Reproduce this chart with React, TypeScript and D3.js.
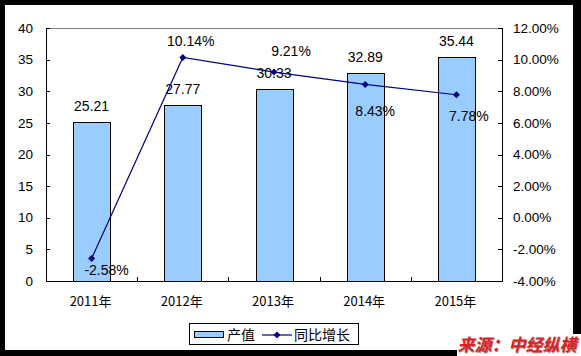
import React from "react";
import * as d3 from "d3";

const years = ["2011年", "2012年", "2013年", "2014年", "2015年"];
const output = [25.21, 27.77, 30.33, 32.89, 35.44];
const growth = [-2.58, 10.14, 9.21, 8.43, 7.78];
const leftTicks = [0, 5, 10, 15, 20, 25, 30, 35, 40];
const rightTicks = [-4, -2, 0, 2, 4, 6, 8, 10, 12];
const legendLabels = ["产值", "同比增长"];
const sourceText = "来源：中经纵横";

// label nudges (layout only)
const growthLabelNudge: [number, number][] = [
  [15, 16.5],
  [8, -11],
  [17, -16],
  [10, 32],
  [12.5, 26],
];

const W = 581;
const H = 356;
const PL = 46;
const PR = 502;
const PT = 28;
const PB = 281;
const NUM_FONT = "'Liberation Sans', Arial, sans-serif";
const CJK_FONT = "'Noto Sans CJK SC', sans-serif";

export default function App() {
  const x = d3.scaleBand<string>().domain(years).range([PL, PR]).padding(0);
  const yL = d3.scaleLinear().domain([0, 40]).range([PB, PT]);
  const yR = d3.scaleLinear().domain([-4, 12]).range([PB, PT]);
  const bw = x.bandwidth() * 0.405;
  const cx = (d: string) => (x(d) as number) + x.bandwidth() / 2;

  const line = d3
    .line<number>()
    .x((_, i) => cx(years[i]))
    .y((v) => yR(v));

  const diamond = (px: number, py: number, r = 3.5) =>
    `M${px},${py - r}L${px + r},${py}L${px},${py + r}L${px - r},${py}Z`;

  const boundaries = years.map((_, i) => PL + x.bandwidth() * i).concat([PR]);

  return (
    <svg
      width={W}
      height={H}
      style={{ position: "absolute", left: 0, top: 0, display: "block" }}
    >
      <rect x={0} y={0} width={W} height={H} fill="#000" />
      <rect x={5} y={5} width={568} height={345} fill="#fff" />

      {/* plot top gray border */}
      <line x1={PL} x2={PR} y1={PT + 0.5} y2={PT + 0.5} stroke="#808080" strokeWidth={1} />

      {/* bars */}
      {years.map((d, i) => (
        <rect
          key={d}
          x={Math.round(cx(d) - bw / 2) + 0.5}
          y={Math.round(yL(output[i])) + 0.5}
          width={Math.round(bw)}
          height={Math.round(yL(0)) - Math.round(yL(output[i]))}
          fill="#99CCFF"
          stroke="#000"
          strokeWidth={1}
        />
      ))}

      {/* axes */}
      <line x1={PL + 0.5} x2={PL + 0.5} y1={PT} y2={PB + 0.5} stroke="#000" />
      <line x1={PR + 0.5} x2={PR + 0.5} y1={PT} y2={PB + 0.5} stroke="#000" />
      <line x1={PL} x2={PR + 1} y1={PB + 0.5} y2={PB + 0.5} stroke="#000" />

      {leftTicks.map((t) => (
        <g key={"l" + t}>
          <line x1={PL} x2={PL + 4} y1={Math.round(yL(t)) + 0.5} y2={Math.round(yL(t)) + 0.5} stroke="#000" />
          <text
            x={33}
            y={yL(t)}
            dy="0.35em"
            textAnchor="end"
            fontFamily={NUM_FONT}
            fontSize={13.5}
            fill="#000"
          >
            {t}
          </text>
        </g>
      ))}

      {rightTicks.map((t) => (
        <g key={"r" + t}>
          <line x1={PR - 4} x2={PR} y1={Math.round(yR(t)) + 0.5} y2={Math.round(yR(t)) + 0.5} stroke="#000" />
          <text
            x={513}
            y={yR(t)}
            dy="0.35em"
            textAnchor="start"
            fontFamily={NUM_FONT}
            fontSize={13.5}
            fill="#000"
          >
            {t.toFixed(2) + "%"}
          </text>
        </g>
      ))}

      {boundaries.map((b, i) => (
        <line key={"xb" + i} x1={Math.round(b) + 0.5} x2={Math.round(b) + 0.5} y1={PB - 4} y2={PB} stroke="#000" />
      ))}

      {years.map((d) => (
        <text
          key={"xl" + d}
          x={cx(d) - 1}
          y={306}
          textAnchor="middle"
          fontFamily={CJK_FONT}
          fontSize={13}
          fill="#000"
        >
          {d}
        </text>
      ))}

      {/* bar labels */}
      {years.map((d, i) => (
        <text
          key={"bl" + d}
          x={cx(d)}
          y={yL(output[i]) - 11}
          textAnchor="middle"
          fontFamily={NUM_FONT}
          fontSize={14}
          fill="#000"
        >
          {output[i].toFixed(2)}
        </text>
      ))}

      {/* growth line */}
      <path d={line(growth) || ""} fill="none" stroke="#000080" strokeWidth={1.2} />
      {growth.map((v, i) => (
        <path key={"m" + i} d={diamond(cx(years[i]), yR(v))} fill="#000080" />
      ))}
      {growth.map((v, i) => (
        <text
          key={"gl" + i}
          x={cx(years[i]) + growthLabelNudge[i][0]}
          y={yR(v) + growthLabelNudge[i][1]}
          textAnchor="middle"
          fontFamily={NUM_FONT}
          fontSize={14}
          fill="#000"
        >
          {v.toFixed(2) + "%"}
        </text>
      ))}

      {/* legend */}
      <rect x={189.5} y={323.5} width={169} height={21} fill="#fff" stroke="#000" />
      <rect x={194.5} y={331.5} width={29} height={6} fill="#99CCFF" stroke="#000" />
      <text x={227} y={340} fontFamily={CJK_FONT} fontSize={14} fill="#000">
        {legendLabels[0]}
      </text>
      <line x1={262} x2={292} y1={335} y2={335} stroke="#000080" strokeWidth={1.2} />
      <path d={diamond(277, 335)} fill="#000080" />
      <text x={294} y={340} fontFamily={CJK_FONT} fontSize={14} fill="#000">
        {legendLabels[1]}
      </text>

      {/* source */}
      <rect x={457} y={334} width={124} height={22} fill="#fff" />
      <text
        x={457.5}
        y={351}
        fontFamily={CJK_FONT}
        fontSize={17}
        fontWeight="bold"
        fontStyle="italic"
        fill="#7a1010"
        opacity={0.5}
        dx={0.8}
        dy={0.8}
      >
        {sourceText}
      </text>
      <text
        x={457.5}
        y={351}
        fontFamily={CJK_FONT}
        fontSize={17}
        fontWeight="bold"
        fontStyle="italic"
        fill="#D42424"
      >
        {sourceText}
      </text>
    </svg>
  );
}
